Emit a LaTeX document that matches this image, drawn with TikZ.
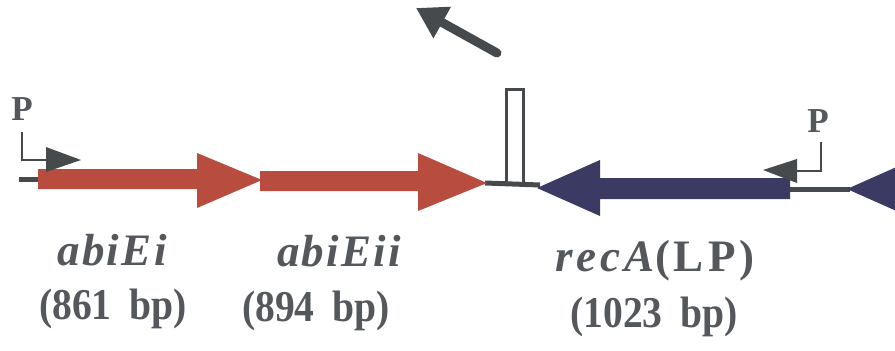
\documentclass[tikz,border=0pt]{standalone}
\usepackage{fontspec}
\setmainfont{Liberation Serif}
\newfontfamily\genefont[LetterSpace=5]{Liberation Serif}
\newfontfamily\recfont[LetterSpace=9]{Liberation Serif}
\usetikzlibrary{arrows.meta}
\definecolor{genered}{RGB}{184,76,62}
\definecolor{geneblue}{RGB}{58,58,98}
\definecolor{line}{RGB}{70,74,76}
\definecolor{txt}{RGB}{84,88,92}
\tikzset{
  backbone/.style={draw=line, line width=5pt},
  redgene/.style={fill=genered, draw=none},
  bluegene/.style={fill=geneblue, draw=none},
  prom/.style={draw=line, line width=2.5pt},
  promhead/.style={fill=line, draw=none},
  genelab/.style={text=txt, inner sep=0pt, anchor=base, font=\bfseries\itshape\fontsize{45}{45}\selectfont},
  bplab/.style={text=txt, inner sep=0pt, anchor=base, font=\bfseries\fontsize{44}{44}\selectfont},
  plab/.style={text=txt, inner sep=0pt, anchor=base, font=\bfseries\fontsize{35}{35}\selectfont},
}
\begin{document}
\begin{tikzpicture}[x=1pt,y=-1pt]
\useasboundingbox (0,0) rectangle (895,351);
\clip (0,0) rectangle (895,351);
% backbone segments
\coordinate (l0) at (19,179);
\coordinate (l1) at (40,179);
\draw[backbone] (l0) -- (l1);
\coordinate (m0) at (485,183);
\coordinate (m1) at (540,185);
\draw[backbone] (m0) -- (m1);
\coordinate (r0) at (785,189);
\coordinate (r1) at (850,189);
\draw[backbone] (r0) -- (r1);
% red genes
\path[redgene] (38,169) -- (197,169) -- (197,153) -- (262,180) -- (197,208) -- (197,189) -- (38,189) -- cycle;
\path[redgene] (260,171) -- (418,171) -- (418,153) -- (487,183) -- (418,211) -- (418,191) -- (260,191) -- cycle;
% blue genes
\path[bluegene] (537,188) -- (600,160) -- (600,178) -- (790,178) -- (790,199) -- (600,199) -- (600,216) -- cycle;
\path[bluegene] (847,189) -- (910,161) -- (910,217) -- cycle;
% open box
\draw[draw=line, line width=3pt] (506,186) -- (506,89) -- (523,89) -- (523,186);
% big arrow
\coordinate (at) at (497,53);
\coordinate (ah) at (416,8);
\draw[draw=line, line width=9pt, line cap=round, -{Triangle[length=30pt,width=34pt]}] (at) -- (ah);
% left promoter
\draw[prom] (22,132) -- (22,160) -- (50,160);
\path[promhead] (81,160) -- (46,147) -- (46,172) -- cycle;
\node[plab] (pl) at (22,120) {P};
% right promoter
\draw[prom] (821,142) -- (821,171) -- (792,171);
\path[promhead] (763,170) -- (797,159) -- (797,183) -- cycle;
\node[plab] (pr) at (818,132) {P};
% labels
\node[genelab] (g1) at (112,265) {\genefont abiEi};
\node[genelab] (g2) at (339,266) {\genefont abiEii};
\node[genelab] (g3) at (655,271) {\recfont recA\upshape(LP)};
\node[bplab] (b1) at (113,319) {\scalebox{0.9}[1]{(861\hspace{0.45em}bp)}};
\node[bplab] (b2) at (316,321) {\scalebox{0.9}[1]{(894\hspace{0.45em}bp)}};
\node[bplab] (b3) at (654,327) {\scalebox{0.9}[1]{(1023\hspace{0.45em}bp)}};
\end{tikzpicture}
\end{document}
